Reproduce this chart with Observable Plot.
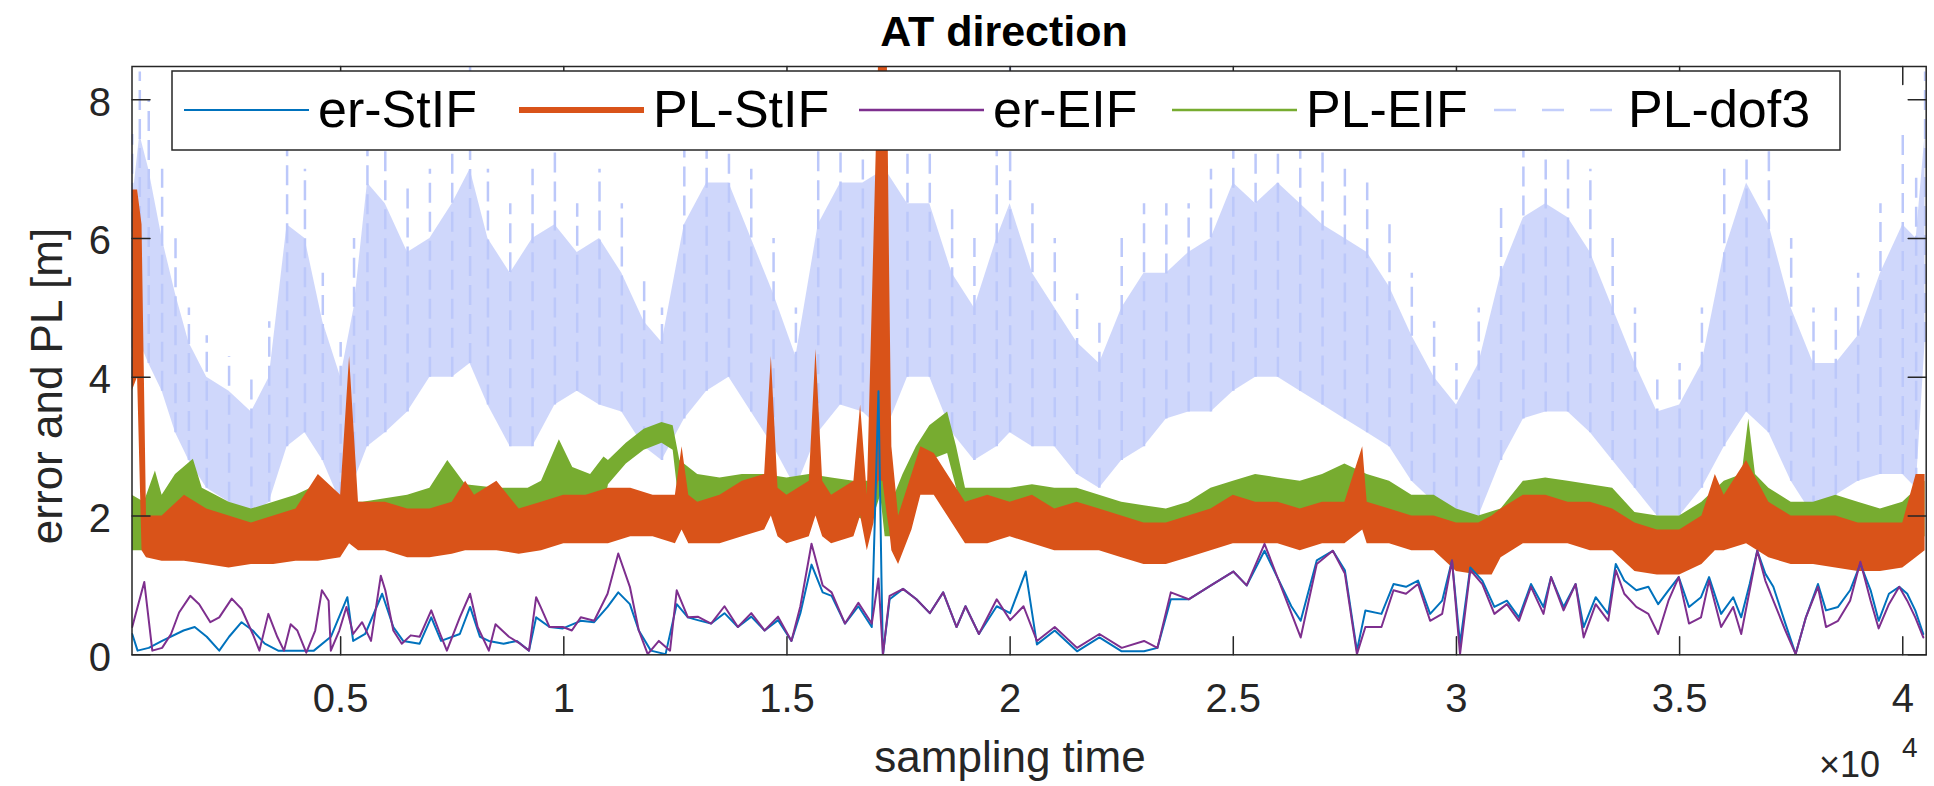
<!DOCTYPE html>
<html>
<head>
<meta charset="utf-8">
<script src="https://cdn.jsdelivr.net/npm/d3@7"></script>
<script src="https://cdn.jsdelivr.net/npm/@observablehq/plot@0.6"></script>
<style>
  html, body { margin: 0; padding: 0; background: #fff; }
  #chart { width: 1934px; height: 786px; }
</style>
</head>
<body>
<div id="chart"></div>
<script>
// ---------------- data (sampling time in samples, values in metres) ----------------
const titleText = "AT direction";
const xLabel = "sampling time";
const yLabel = "error and PL [m]";
const xTicks = [5000, 10000, 15000, 20000, 25000, 30000, 35000, 40000];
const yTicks = [0, 2, 4, 6, 8];
const seriesNames = ["er-StIF", "PL-StIF", "er-EIF", "PL-EIF", "PL-dof3"];
const seriesColors = ["#0072BD", "#D95319", "#7E2F8E", "#77AC30", "#BCC8FA"];

// er-StIF : [sample, error]
const erStIF = [[330,0.30],[450,0.06],[700,0.10],[1000,0.20],[1480,0.35],[1730,0.40],[2000,0.26],[2280,0.06],[2500,0.26],[2780,0.47],[3030,0.35],[3300,0.16],[3600,0.06],[4000,0.06],[4400,0.06],[4780,0.26],[5150,0.83],[5280,0.20],[5550,0.30],[5930,0.88],[6180,0.40],[6400,0.20],[6770,0.16],[7030,0.54],[7250,0.20],[7670,0.30],[7900,0.69],[8120,0.26],[8320,0.20],[8650,0.16],[8950,0.20],[9220,0.06],[9380,0.54],[9680,0.40],[9980,0.38],[10380,0.49],[10680,0.47],[10980,0.69],[11220,0.90],[11480,0.73],[11680,0.35],[11950,0.06],[12280,0.01],[12530,0.73],[12780,0.54],[13000,0.50],[13300,0.45],[13600,0.60],[13900,0.40],[14200,0.55],[14500,0.35],[14800,0.50],[15100,0.20],[15300,0.60],[15550,1.30],[15800,0.90],[16000,0.85],[16300,0.45],[16600,0.70],[16900,0.40],[17050,3.80],[17120,1.00],[17150,0.00],[17300,0.80],[17600,0.95],[17900,0.80],[18200,0.60],[18500,0.90],[18800,0.40],[19000,0.70],[19300,0.30],[19700,0.70],[20000,0.60],[20350,1.20],[20600,0.15],[21000,0.35],[21500,0.05],[22000,0.25],[22500,0.05],[23000,0.05],[23300,0.10],[23600,0.80],[24000,0.80],[24500,1.00],[25000,1.20],[25300,1.00],[25700,1.50],[26000,1.10],[26300,0.70],[26510,0.49],[26870,1.36],[27230,1.50],[27500,1.22],[27770,0.06],[27960,0.64],[28320,0.59],[28590,1.02],[28870,0.98],[29140,1.07],[29410,0.59],[29680,0.78],[29900,1.36],[30080,0.16],[30310,1.26],[30580,1.07],[30850,0.69],[31130,0.78],[31400,0.54],[31670,1.02],[31950,0.69],[32120,1.12],[32400,0.69],[32670,1.02],[32850,0.40],[33120,0.83],[33400,0.59],[33570,1.31],[33760,1.07],[34030,0.93],[34300,0.98],[34520,0.73],[34750,0.93],[34980,1.12],[35210,0.69],[35480,0.83],[35660,1.12],[35930,0.59],[36200,0.83],[36380,0.54],[36570,1.02],[36740,1.50],[36920,1.17],[37100,0.98],[37370,0.45],[37600,0.01],[37830,0.54],[38100,1.02],[38280,0.64],[38550,0.69],[38820,0.93],[39050,1.31],[39280,0.93],[39460,0.49],[39690,0.88],[39920,0.98],[40100,0.88],[40280,0.64],[40460,0.30]];

// er-EIF : [sample, error]
const erEIF = [[330,0.40],[600,1.05],[780,0.06],[1000,0.10],[1200,0.30],[1380,0.61],[1630,0.85],[1830,0.73],[2080,0.47],[2280,0.54],[2560,0.81],[2780,0.66],[3030,0.30],[3180,0.06],[3380,0.59],[3580,0.26],[3730,0.06],[3880,0.44],[4030,0.35],[4230,0.03],[4430,0.35],[4580,0.93],[4730,0.78],[4780,0.06],[4970,0.35],[5130,0.69],[5280,0.30],[5480,0.47],[5680,0.20],[5900,1.14],[6000,0.93],[6180,0.35],[6370,0.16],[6570,0.28],[6770,0.26],[7030,0.64],[7230,0.30],[7380,0.06],[7670,0.54],[7900,0.88],[8070,0.40],[8320,0.06],[8470,0.44],[8770,0.26],[9020,0.16],[9220,0.06],[9380,0.83],[9480,0.69],[9680,0.40],[9980,0.40],[10180,0.35],[10380,0.54],[10680,0.49],[10980,0.88],[11220,1.46],[11480,0.98],[11680,0.35],[11880,0.01],[12130,0.20],[12380,0.06],[12530,0.93],[12780,0.54],[13000,0.55],[13300,0.45],[13600,0.70],[13900,0.40],[14200,0.60],[14500,0.35],[14800,0.55],[15100,0.20],[15300,0.70],[15550,1.60],[15800,1.00],[16000,0.90],[16300,0.45],[16600,0.75],[16900,0.45],[17050,1.10],[17150,0.00],[17300,0.85],[17600,0.95],[17900,0.80],[18200,0.60],[18500,0.90],[18800,0.40],[19000,0.70],[19300,0.30],[19700,0.80],[20000,0.50],[20300,0.70],[20600,0.20],[21000,0.40],[21500,0.10],[22000,0.30],[22500,0.10],[23000,0.20],[23300,0.10],[23600,0.90],[24000,0.80],[24500,1.00],[25000,1.20],[25300,1.00],[25700,1.60],[26000,1.10],[26300,0.60],[26510,0.25],[26870,1.31],[27230,1.50],[27500,1.17],[27770,0.01],[27960,0.40],[28320,0.40],[28590,0.93],[28870,0.88],[29140,1.02],[29410,0.49],[29680,0.59],[29900,1.36],[30080,0.01],[30310,1.22],[30580,1.02],[30850,0.59],[31130,0.73],[31400,0.49],[31670,0.98],[31950,0.59],[32120,1.12],[32400,0.64],[32670,1.02],[32850,0.25],[33120,0.73],[33400,0.49],[33570,1.22],[33760,0.88],[34030,0.69],[34300,0.59],[34520,0.30],[34750,0.78],[34980,1.12],[35210,0.45],[35480,0.54],[35660,1.07],[35930,0.40],[36200,0.69],[36380,0.30],[36570,0.93],[36740,1.50],[36920,1.07],[37100,0.78],[37370,0.35],[37600,0.01],[37830,0.54],[38100,0.98],[38280,0.40],[38550,0.49],[38820,0.78],[39050,1.34],[39280,0.78],[39460,0.38],[39690,0.73],[39920,0.98],[40100,0.78],[40280,0.54],[40460,0.25]];

// PL-StIF : [sample, low edge, high edge] of the noisy trace
const plStIF = [[330,3.8,6.7],[450,4.0,6.7],[550,1.5,6.2],[650,1.4,2.0],[1000,1.35,2.0],[1500,1.35,2.3],[2000,1.3,2.1],[2500,1.25,2.0],[3000,1.3,1.9],[3500,1.3,2.0],[4000,1.35,2.1],[4500,1.35,2.6],[5000,1.4,2.3],[5200,1.6,4.3],[5400,1.5,2.2],[6000,1.5,2.2],[6500,1.4,2.1],[7000,1.4,2.1],[7500,1.45,2.2],[7800,1.5,2.5],[8000,1.5,2.3],[8500,1.5,2.5],[9000,1.45,2.1],[9500,1.5,2.2],[10000,1.6,2.3],[10500,1.6,2.3],[11000,1.6,2.4],[11500,1.7,2.4],[12000,1.7,2.3],[12500,1.6,2.3],[12650,1.8,3.0],[12800,1.6,2.3],[13000,1.6,2.2],[13500,1.6,2.3],[14000,1.7,2.5],[14500,1.8,2.6],[14650,2.0,4.3],[14800,1.7,2.4],[15000,1.6,2.3],[15500,1.7,2.5],[15650,2.0,4.4],[15800,1.7,2.5],[16000,1.6,2.3],[16500,1.7,2.5],[16650,2.0,3.6],[16800,1.5,2.3],[16950,1.9,6.0],[17050,2.5,8.5],[17150,2.5,8.5],[17250,2.0,8.5],[17300,1.8,5.5],[17350,1.5,3.0],[17500,1.3,2.0],[17800,1.8,2.6],[18000,2.3,3.0],[18300,2.3,2.9],[18600,2.0,2.6],[19000,1.6,2.2],[19500,1.6,2.3],[20000,1.7,2.2],[20500,1.6,2.3],[21000,1.5,2.1],[21500,1.5,2.2],[22000,1.5,2.1],[22500,1.4,2.0],[23000,1.3,1.9],[23500,1.3,1.9],[24000,1.4,2.0],[24500,1.5,2.1],[25000,1.6,2.3],[25500,1.6,2.2],[26000,1.6,2.2],[26500,1.5,2.1],[27000,1.6,2.2],[27500,1.6,2.2],[27900,1.8,3.0],[28000,1.6,2.2],[28500,1.6,2.1],[29000,1.5,2.0],[29500,1.5,2.0],[30000,1.2,1.9],[30500,1.15,1.9],[30800,1.15,2.0],[31000,1.4,2.1],[31500,1.6,2.3],[32000,1.6,2.3],[32500,1.6,2.2],[33000,1.5,2.2],[33500,1.5,2.1],[34000,1.2,1.9],[34500,1.15,1.8],[35000,1.15,1.8],[35500,1.3,2.0],[35800,1.5,2.6],[36000,1.5,2.3],[36500,1.6,2.8],[37000,1.4,2.2],[37500,1.3,2.0],[38000,1.3,2.0],[38500,1.25,2.0],[39000,1.2,1.9],[39500,1.2,1.9],[40000,1.25,1.9],[40300,1.4,2.6],[40500,1.5,2.6]];

// PL-EIF : [sample, low edge, high edge]
const plEIF = [[330,1.5,2.3],[600,1.5,2.2],[850,1.6,2.65],[1000,1.6,2.3],[1300,1.7,2.6],[1700,1.8,2.82],[1900,1.8,2.4],[2200,1.9,2.3],[2500,1.85,2.2],[3000,1.85,2.1],[3500,1.85,2.2],[4000,1.9,2.3],[4500,1.9,2.45],[5000,1.85,2.2],[5500,1.9,2.2],[6000,1.9,2.25],[6500,1.95,2.3],[7000,2.0,2.4],[7400,2.0,2.8],[7800,1.95,2.45],[8500,1.95,2.4],[9200,2.0,2.4],[9500,2.0,2.5],[9900,2.2,3.1],[10200,2.1,2.7],[10600,2.1,2.6],[10900,2.1,2.85],[11000,2.45,2.8],[11400,2.75,3.05],[11800,2.95,3.25],[12200,3.05,3.35],[12450,2.95,3.3],[12600,2.1,2.8],[13000,2.0,2.6],[13500,2.0,2.55],[14000,2.0,2.6],[14500,2.05,2.6],[15000,2.0,2.55],[15500,2.05,2.6],[16000,2.0,2.55],[16500,2.0,2.5],[16900,1.9,2.5],[17100,2.3,4.0],[17200,1.7,3.4],[17350,1.7,2.2],[17600,2.0,2.6],[17900,2.5,3.0],[18200,2.8,3.3],[18600,2.9,3.5],[18800,2.4,3.0],[19000,1.9,2.4],[19500,1.85,2.4],[20000,1.9,2.4],[20500,1.85,2.45],[21000,1.8,2.4],[21500,1.85,2.4],[22000,1.8,2.3],[22500,1.7,2.2],[23000,1.6,2.15],[23500,1.6,2.1],[24000,1.65,2.2],[24500,1.8,2.4],[25000,1.9,2.5],[25500,2.0,2.6],[26000,2.0,2.55],[26500,1.95,2.5],[27000,2.0,2.6],[27500,2.1,2.75],[28000,2.0,2.6],[28500,1.95,2.5],[29000,1.8,2.3],[29500,1.8,2.3],[30000,1.6,2.1],[30500,1.5,2.0],[31000,1.6,2.1],[31500,1.9,2.5],[32000,1.95,2.55],[32500,2.0,2.5],[33000,1.9,2.45],[33500,1.8,2.4],[34000,1.5,2.05],[34500,1.5,2.0],[35000,1.5,2.0],[35500,1.7,2.2],[36000,1.9,2.5],[36400,2.0,2.6],[36550,2.3,3.4],[36700,2.0,2.6],[37000,1.8,2.4],[37500,1.65,2.2],[38000,1.7,2.2],[38500,1.7,2.3],[39000,1.6,2.2],[39500,1.6,2.1],[40000,1.65,2.2],[40500,1.7,2.5]];

// PL-dof3 : [sample, low edge, upper edge of dense part, spike peak]
const plDof3 = [[330,4.0,6.5,7.5],[500,4.5,7.5,8.4],[700,4.2,7.0,8.0],[1000,3.8,6.0,7.0],[1300,3.2,5.2,6.0],[1600,2.8,4.5,5.0],[2000,2.4,4.0,4.6],[2500,2.2,3.8,4.3],[3000,2.0,3.5,4.0],[3400,2.2,4.0,4.8],[3800,3.0,6.2,7.7],[4200,3.2,6.0,7.0],[4600,2.8,4.8,5.5],[5000,2.2,4.0,4.5],[5300,2.5,5.0,6.0],[5600,3.0,6.8,8.3],[6000,3.2,6.5,7.8],[6500,3.5,5.8,6.8],[7000,4.0,6.0,7.0],[7500,4.0,6.5,7.5],[7900,4.2,7.0,8.5],[8300,3.6,6.0,7.0],[8800,3.0,5.5,6.5],[9300,3.0,6.0,7.0],[9800,3.6,6.2,7.5],[10300,3.8,5.8,6.5],[10800,3.6,6.0,7.0],[11300,3.5,5.5,6.5],[11800,3.0,4.8,5.5],[12200,2.8,4.5,5.0],[12700,3.4,6.2,7.5],[13200,3.8,6.8,8.0],[13700,4.0,6.8,8.0],[14200,3.5,6.0,7.0],[14700,3.0,5.2,6.0],[15200,2.4,4.3,5.0],[15700,3.2,6.2,7.5],[16200,3.6,6.8,8.0],[16700,3.5,6.8,8.0],[17200,3.2,7.0,8.5],[17700,4.0,6.5,7.5],[18200,4.0,6.5,7.5],[18700,3.2,5.5,6.5],[19200,2.8,5.0,6.0],[19700,3.0,6.0,7.5],[20000,3.2,6.5,8.5],[20500,3.0,5.5,6.5],[21000,3.0,5.0,6.0],[21500,2.6,4.5,5.2],[22000,2.4,4.2,4.8],[22500,2.8,5.0,6.0],[23000,3.0,5.5,6.5],[23500,3.4,5.5,6.5],[24000,3.5,5.8,6.5],[24500,3.5,6.0,7.0],[25000,3.8,6.8,8.2],[25500,4.0,6.5,7.5],[26000,4.0,6.8,8.0],[26500,3.8,6.5,7.8],[27000,3.6,6.2,7.5],[27500,3.4,6.0,7.0],[28000,3.2,5.8,6.8],[28500,3.0,5.3,6.2],[29000,2.5,4.6,5.5],[29500,2.2,4.0,4.8],[30000,2.0,3.6,4.2],[30500,2.0,4.2,5.0],[31000,2.8,5.5,6.5],[31500,3.4,6.3,7.5],[32000,3.5,6.5,7.8],[32500,3.5,6.3,7.5],[33000,3.2,5.8,7.0],[33500,2.8,5.0,6.0],[34000,2.4,4.2,5.0],[34500,2.0,3.5,4.0],[35000,2.0,3.6,4.2],[35500,2.4,4.2,5.0],[36000,3.0,5.8,7.0],[36500,3.5,6.8,8.0],[37000,3.2,6.2,7.5],[37500,2.5,5.0,6.0],[38000,2.0,4.2,5.0],[38500,2.3,4.2,5.0],[39000,2.5,4.6,5.5],[39500,2.6,5.5,6.5],[40000,2.6,6.2,7.5],[40300,2.4,6.0,7.0],[40500,4.5,7.5,8.4]];

// ---------------- rendering ----------------
const FONT = "'Liberation Sans', Arial, Helvetica, sans-serif";
const AX = "#262626";
const tickShape = { draw(context, l) { context.moveTo(0, 0); context.lineTo(0, -l); } };
const TL = 18;

const plot = Plot.plot({
  width: 1934,
  height: 786,
  marginLeft: 131.5,
  marginRight: 8.3,
  marginTop: 66,
  marginBottom: 131.7,
  style: { fontFamily: FONT, fontSize: "40px", color: AX, background: "#fff", overflow: "visible" },
  x: { domain: [325, 40525], label: null },
  y: { domain: [0, 8.48], label: null },
  marks: [
    // PL-dof3 (dashed, very noisy trace): dense body + spikes
    Plot.areaY(plDof3, { x: d => d[0], y1: d => d[1], y2: d => d[2], fill: seriesColors[4], fillOpacity: 0.72, clip: true }),
    Plot.ruleX(plDof3, { x: d => d[0], y1: d => d[1], y2: d => d[3], stroke: seriesColors[4], strokeWidth: 2.5, strokeDasharray: "20,9", clip: true }),
    // PL-EIF
    Plot.areaY(plEIF, { x: d => d[0], y1: d => d[1], y2: d => d[2], fill: seriesColors[3], clip: true }),
    // PL-StIF
    Plot.areaY(plStIF, { x: d => d[0], y1: d => d[1], y2: d => d[2], fill: seriesColors[1], clip: true }),
    // errors
    Plot.line(erStIF, { x: d => d[0], y: d => d[1], stroke: seriesColors[0], strokeWidth: 2, clip: true }),
    Plot.line(erEIF, { x: d => d[0], y: d => d[1], stroke: seriesColors[2], strokeWidth: 2, clip: true }),
    // frame and inward ticks
    Plot.frame({ stroke: AX, strokeWidth: 1.5 }),
    Plot.vector(xTicks, { x: d => d, frameAnchor: "bottom", anchor: "start", length: TL, rotate: 0, shape: tickShape, stroke: AX, strokeWidth: 1.5 }),
    Plot.vector(xTicks, { x: d => d, frameAnchor: "top", anchor: "start", length: TL, rotate: 180, shape: tickShape, stroke: AX, strokeWidth: 1.5 }),
    Plot.vector(yTicks, { y: d => d, frameAnchor: "left", anchor: "start", length: TL, rotate: 90, shape: tickShape, stroke: AX, strokeWidth: 1.5 }),
    Plot.vector(yTicks, { y: d => d, frameAnchor: "right", anchor: "start", length: TL, rotate: -90, shape: tickShape, stroke: AX, strokeWidth: 1.5 }),
    Plot.axisX(xTicks, { tickSize: 0, tickPadding: 29, tickFormat: d => String(d / 1e4), fontSize: 40, fill: AX, label: null }),
    Plot.axisY(yTicks, { tickSize: 0, tickPadding: 21, tickFormat: d => String(d), fontSize: 40, fill: AX, dy: 3, label: null })
  ]
});

const svg = d3.select(plot);
svg.attr("font-family", FONT);

// title
svg.append("text").attr("x", 1004).attr("y", 46).attr("text-anchor", "middle")
  .style("font-size", "43px").attr("font-weight", "bold").attr("fill", "#000").text(titleText);
// x label
svg.append("text").attr("x", 1010).attr("y", 772).attr("text-anchor", "middle")
  .style("font-size", "44px").attr("fill", AX).text(xLabel);
// y label
svg.append("text").attr("transform", "translate(62,386) rotate(-90)").attr("text-anchor", "middle")
  .style("font-size", "44px").attr("fill", AX).text(yLabel);
// x10^4 exponent
svg.append("text").attr("x", 1819).attr("y", 777).attr("text-anchor", "start")
  .style("font-size", "36px").attr("fill", AX).text("\u00d710");
svg.append("text").attr("x", 1902).attr("y", 757).attr("text-anchor", "start")
  .style("font-size", "28px").attr("fill", AX).text("4");

// legend
const lg = svg.append("g");
lg.append("rect").attr("x", 172).attr("y", 71).attr("width", 1668).attr("height", 79)
  .attr("fill", "#fff").attr("stroke", AX).attr("stroke-width", 1.5);
const legX = [184, 519, 859, 1172, 1494];
const legW = [2, 6, 2.5, 2.5, 2.5];
seriesNames.forEach((name, i) => {
  lg.append("line").attr("x1", legX[i]).attr("x2", legX[i] + 125).attr("y1", 110).attr("y2", 110)
    .attr("stroke", i === 4 ? "#C3CEFB" : seriesColors[i]).attr("stroke-width", legW[i])
    .attr("stroke-dasharray", i === 4 ? "22,26" : null);
  lg.append("text").attr("x", legX[i] + 134).attr("y", 127).attr("text-anchor", "start")
    .style("font-size", "52px").attr("fill", "#000").text(name);
});

document.getElementById("chart").appendChild(plot);
</script>
</body>
</html>
